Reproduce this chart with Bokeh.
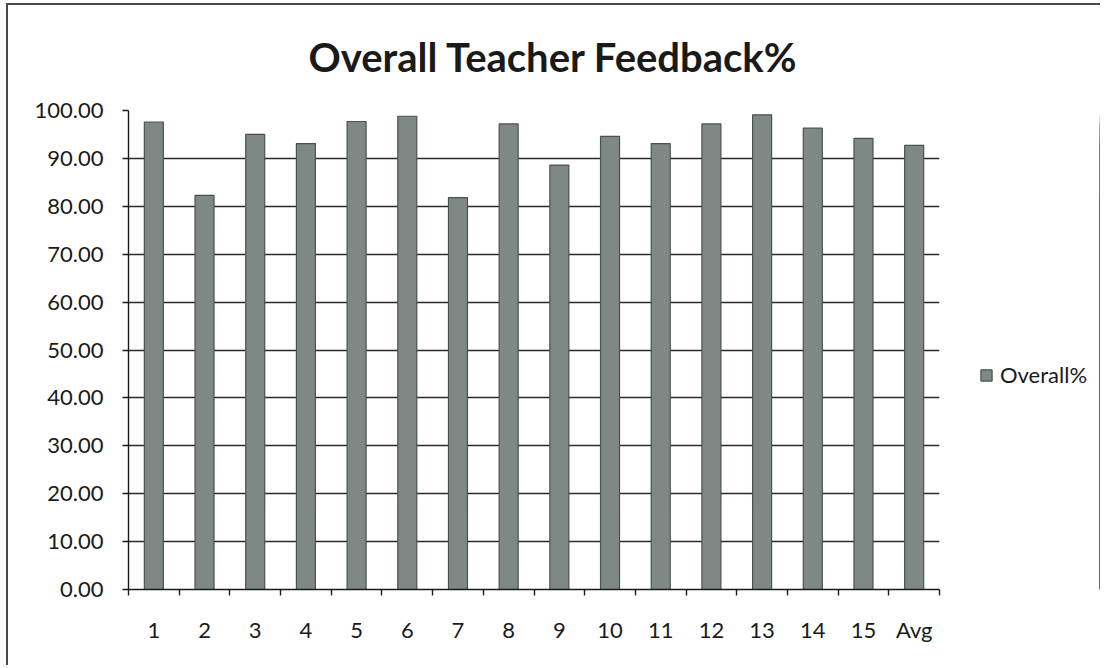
import numpy as np
from bokeh.plotting import figure
from bokeh.layouts import row, column
from bokeh.models import (ColumnDataSource, FixedTicker, NumeralTickFormatter,
                          Range1d, Legend, LegendItem, Div)
from bokeh.embed import file_html
from bokeh.resources import INLINE

# ---- data ----
categories = ["1", "2", "3", "4", "5", "6", "7", "8", "9", "10",
              "11", "12", "13", "14", "15", "Avg"]
overall_pct = [97.6, 82.3, 95.0, 93.1, 97.7, 98.8, 81.8, 97.2,
               88.6, 94.6, 93.1, 97.2, 99.1, 96.3, 94.2, 92.7]
y_ticks = [0, 10, 20, 30, 40, 50, 60, 70, 80, 90, 100]
title_text = "Overall Teacher Feedback%"
series_name = "Overall%"

n = len(categories)
centers = [i + 0.5 for i in range(n)]
bounds = [float(i) for i in range(n + 1)]

src = ColumnDataSource(dict(x=centers, top=overall_pct, cat=categories))

FONT = "Lato"
TXT = "#1a1a1a"
BAR_FILL = "#7f8885"
BAR_LINE = "#4a5250"
FRAME = "#4a4a4a"

p = figure(width=934, height=660, output_backend="svg", toolbar_location=None,
           x_range=Range1d(0, n), y_range=Range1d(0, 100),
           min_border_left=120, min_border_right=3,
           min_border_top=105, min_border_bottom=76, margin=0)
p.outline_line_color = None
p.background_fill_color = "white"
p.border_fill_color = "white"

p.title.text = title_text
p.title.align = "left"
p.title.offset = 180
p.title.vertical_align = "top"
p.title.standoff = 55
p.title.text_font = FONT
p.title.text_font_size = "40px"
p.title.text_font_style = "bold"
p.title.text_color = TXT

r = p.vbar(x="x", top="top", width=0.375, bottom=0, source=src,
           fill_color=BAR_FILL, line_color=BAR_LINE, line_width=1.2)

# grid
p.xgrid.visible = False
p.ygrid.ticker = FixedTicker(ticks=y_ticks)
p.ygrid.grid_line_color = "#2a2a2a"
p.ygrid.grid_line_width = 1.4

# y axis
ya = p.yaxis[0]
ya.ticker = FixedTicker(ticks=y_ticks, minor_ticks=[])
ya.formatter = NumeralTickFormatter(format="0.00")
ya.major_tick_out = 6
ya.major_tick_in = 0
ya.minor_tick_out = 0
ya.minor_tick_in = 0
ya.axis_line_color = "#1a1a1a"
ya.axis_line_width = 1.4
ya.major_tick_line_color = "#1a1a1a"
ya.major_tick_line_width = 1.4
ya.major_label_text_font = FONT
ya.major_label_text_font_size = "22px"
ya.major_label_text_color = TXT
ya.major_label_standoff = 19

# x axis
xa = p.xaxis[0]
xa.ticker = FixedTicker(ticks=centers, minor_ticks=bounds)
xa.major_label_overrides = {c: lab for c, lab in zip(centers, categories)}
xa.major_tick_out = 0
xa.major_tick_in = 0
xa.minor_tick_out = 6
xa.minor_tick_in = 0
xa.minor_tick_line_color = "#1a1a1a"
xa.minor_tick_line_width = 1.4
xa.axis_line_color = "#1a1a1a"
xa.axis_line_width = 1.4
xa.major_label_text_font = FONT
xa.major_label_text_font_size = "22px"
xa.major_label_text_color = TXT
xa.major_label_standoff = 20

# legend panel (separate figure, same data source kept out of view)
p2 = figure(width=158, height=660, output_backend="svg", toolbar_location=None,
            x_range=Range1d(-20, -19), y_range=Range1d(0, 100),
            x_axis_location=None, y_axis_location=None,
            min_border_left=0, min_border_right=0,
            min_border_top=0, min_border_bottom=0, margin=0)
p2.outline_line_color = None
p2.xgrid.visible = False
p2.ygrid.visible = False
p2.background_fill_color = "white"
p2.border_fill_color = "white"
r2 = p2.vbar(x="x", top="top", width=0.375, bottom=0, source=src,
             fill_color=BAR_FILL, line_color=BAR_LINE, line_width=1.2)
legend = Legend(items=[LegendItem(label=series_name, renderers=[r2])],
                location=(37, 201), orientation="vertical",
                padding=0, margin=0, spacing=0,
                glyph_width=14, glyph_height=14, label_standoff=7,
                label_text_font=FONT, label_text_font_size="22px",
                label_text_color=TXT, border_line_color=None,
                background_fill_alpha=0)
p2.add_layout(legend, "center")

# chart-area border (left and top edges) as thin filled divs
top_line = Div(text="", width=1094, height=2, margin=0,
               styles={"background-color": FRAME})
left_line = Div(text="", width=2, height=660, margin=0,
                styles={"background-color": FRAME})

layout = column(top_line, row(left_line, p, p2, spacing=0, margin=0),
                spacing=0, margin=(3, 0, 0, 6))

open("out.html", "w").write(file_html(layout, INLINE))
